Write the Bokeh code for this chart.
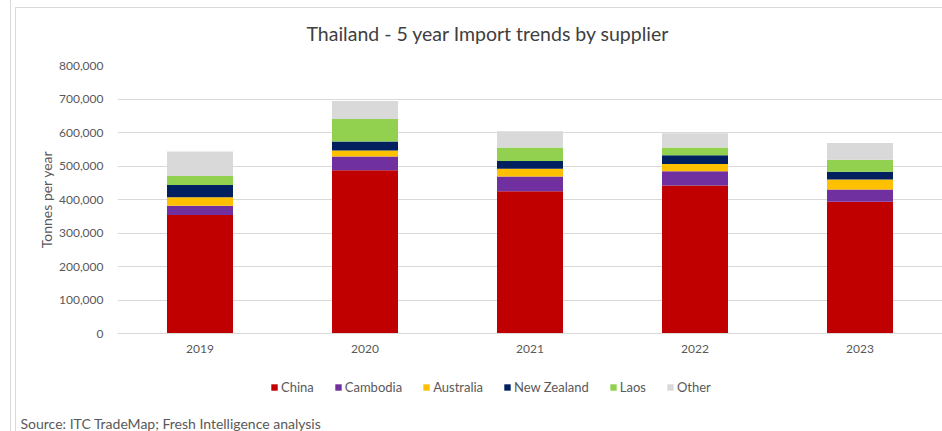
from bokeh.plotting import figure
from bokeh.layouts import column
from bokeh.models import (FactorRange, Range1d, Legend, LegendItem, Title, Label,
                          NumeralTickFormatter)
from bokeh.embed import file_html
from bokeh.resources import INLINE

years = ["2019", "2020", "2021", "2022", "2023"]
suppliers = ["China", "Cambodia", "Australia", "New Zealand", "Laos", "Other"]
china = [354000, 487000, 425000, 442000, 393000]
cambodia = [27000, 41000, 44000, 42000, 37000]
australia = [26000, 18000, 23000, 22000, 30000]
new_zealand = [36000, 27000, 23000, 26000, 23000]
laos = [27000, 67000, 40000, 23000, 36000]
other = [73000, 54000, 49000, 43000, 50000]
y_ticks = [0, 100000, 200000, 300000, 400000, 500000, 600000, 700000, 800000]

colors = ["#C00000", "#7030A0", "#FFC000", "#002060", "#92D050", "#D9D9D9"]
FONT = "Lato"
TXT = "#595959"

data = {"year": years, "China": china, "Cambodia": cambodia, "Australia": australia,
        "New Zealand": new_zealand, "Laos": laos, "Other": other}

# ---- main chart ----
p = figure(width=942, height=358, output_backend="svg", toolbar_location=None,
           x_range=FactorRange(*years), y_range=Range1d(0, 800000),
           min_border_left=117, min_border_right=0, min_border_top=63,
           min_border_bottom=25, outline_line_color=None,
           border_fill_alpha=0, background_fill_color="white")
p.frame_align = False

p.vbar_stack(suppliers, x="year", width=0.4, color=colors, line_color=None, source=data)

p.xgrid.grid_line_color = None
p.ygrid.grid_line_color = "#D9D9D9"
p.ygrid.grid_line_width = 1
p.yaxis.ticker = y_ticks
p.yaxis.formatter = NumeralTickFormatter(format="0,0")
p.yaxis.axis_line_color = None
p.yaxis.major_tick_line_color = None
p.yaxis.major_tick_out = 0
p.yaxis.major_tick_in = 0
p.yaxis.minor_tick_line_color = None
p.yaxis.minor_tick_out = 0
p.yaxis.major_label_standoff = 14
p.yaxis.major_label_text_font = FONT
p.yaxis.major_label_text_font_size = "12px"
p.yaxis.major_label_text_color = TXT
p.yaxis.axis_label = "Tonnes per year"
p.yaxis.axis_label_text_font = FONT
p.yaxis.axis_label_text_font_size = "14px"
p.yaxis.axis_label_text_font_style = "normal"
p.yaxis.axis_label_text_color = TXT
p.yaxis.axis_label_standoff = 1

p.xaxis.axis_line_color = "#D9D9D9"
p.xaxis.major_tick_line_color = None
p.xaxis.major_tick_out = 0
p.xaxis.major_tick_in = 0
p.xaxis.minor_tick_line_color = None
p.xaxis.minor_tick_out = 0
p.xaxis.major_label_standoff = 11
p.xaxis.major_label_text_font = FONT
p.xaxis.major_label_text_font_size = "12px"
p.xaxis.major_label_text_color = TXT

p.add_layout(Title(text="Thailand - 5 year Import trends by supplier",
                   align="left", offset=189, vertical_align="middle", standoff=40,
                   text_font=FONT, text_font_size="19.5px", text_font_style="normal",
                   text_color="#404040"), "above")

# ---- legend + source strip ----
q = figure(width=942, height=73, output_backend="svg", toolbar_location=None,
           x_range=Range1d(0, 1), y_range=Range1d(0, 1),
           x_axis_type=None, y_axis_type=None, min_border=0,
           outline_line_color=None, border_fill_alpha=0, background_fill_alpha=0)
q.frame_align = False
q.xgrid.visible = False
q.ygrid.visible = False

keys = []
for s, c in zip(suppliers, colors):
    # legend key swatch only: a single point placed outside the visible range
    r = q.vbar(x=[5], top=[5], bottom=[4], width=0.1, fill_color=c, line_color=None)
    keys.append(LegendItem(label=s, renderers=[r]))

legend = Legend(items=keys, orientation="horizontal", location=(270, 36),
                glyph_width=8, glyph_height=8, label_height=16, label_standoff=3,
                spacing=20, padding=0, margin=0, border_line_color=None,
                background_fill_alpha=0, label_text_font=FONT,
                label_text_font_size="13px", label_text_color=TXT)
q.add_layout(legend, "center")

q.add_layout(Label(x=20, y=8, x_units="screen", y_units="screen",
                   text="Source:  ITC TradeMap; Fresh Intelligence  analysis",
                   text_font=FONT, text_font_size="14px", text_color=TXT,
                   text_align="left", text_baseline="middle"))

# light grey chart-box / cell border lines behind the figures
frame_lines = ("linear-gradient(#DADADA,#DADADA) 10px 0px / 1px 100% no-repeat, "
               "linear-gradient(#DADADA,#DADADA) 15px 7px / 1px 100% no-repeat, "
               "linear-gradient(#DADADA,#DADADA) 15px 7px / 100% 1px no-repeat, white")

layout = column(p, q, spacing=0, styles={"background": frame_lines})
open("out.html", "w").write(file_html(layout, INLINE))
